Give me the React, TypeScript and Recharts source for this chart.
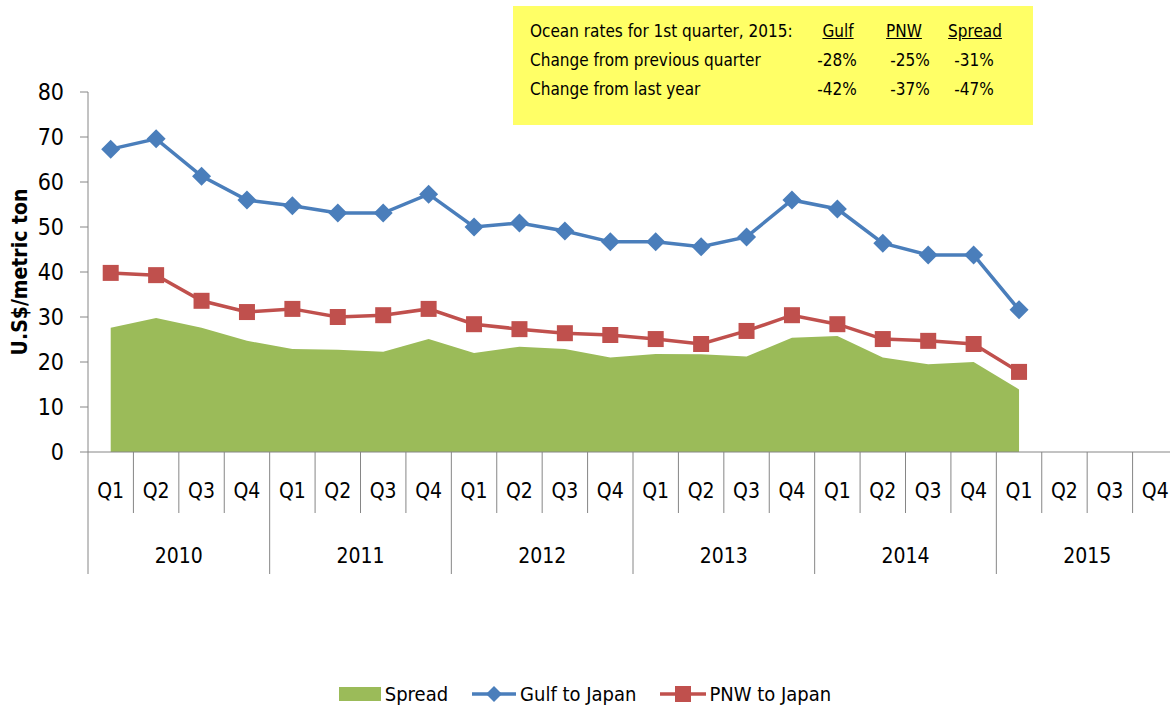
import React from 'react';
import { ComposedChart, Area, Line, XAxis, YAxis, Legend } from 'recharts';

const YEARS = ['2010', '2011', '2012', '2013', '2014', '2015'];
const QUARTERS = ['Q1', 'Q2', 'Q3', 'Q4'];

// values by quarter, 2010 Q1 .. 2015 Q1 (later quarters empty)
const gulf = [67.3, 69.6, 61.3, 56.0, 54.7, 53.1, 53.1, 57.3, 50.0, 50.9, 49.1, 46.7, 46.7, 45.6, 47.8, 56.0, 54.0, 46.4, 43.8, 43.8, 31.6];
const pnw = [39.8, 39.3, 33.6, 31.1, 31.8, 30.0, 30.4, 31.8, 28.4, 27.3, 26.4, 26.0, 25.1, 24.0, 26.9, 30.4, 28.4, 25.1, 24.7, 24.0, 17.8];
const spread = [27.6, 29.8, 27.6, 24.7, 22.9, 22.7, 22.3, 25.1, 22.0, 23.4, 22.9, 21.0, 21.8, 21.7, 21.2, 25.4, 25.8, 21.0, 19.5, 20.0, 13.9];

const Y_TICKS = [0, 10, 20, 30, 40, 50, 60, 70, 80];

const BOX_HEAD = ['Gulf', 'PNW', 'Spread'];
const BOX_ROWS = [
  { label: 'Change from previous quarter', values: ['-28%', '-25%', '-31%'] },
  { label: 'Change from last year', values: ['-42%', '-37%', '-47%'] },
];

const data = YEARS.flatMap((yr, yi) =>
  QUARTERS.map((q, qi) => {
    const i = yi * 4 + qi;
    return {
      key: `${yr} ${q}`,
      spread: spread[i] ?? null,
      gulf: gulf[i] ?? null,
      pnw: pnw[i] ?? null,
    };
  })
);

const W = 1170;
const CHART_W = 1178; // the plot runs a little past the right edge
const H = 709;
const LEFT = 88;
const TOP = 92;
const AXIS_Y = 452;
const BAND = (CHART_W - LEFT) / data.length;
const FONT = "'Liberation Sans Narrow', 'DejaVu Sans Condensed', sans-serif";

const GREEN = '#9BBB59';
const BLUE = '#4A7EBB';
const RED = '#C0504D';
const GRID = '#868686';

const QuarterTick = (props: any) => {
  const { x, payload } = props;
  const i = payload.index;
  const half = BAND / 2;
  const yearEnd = i % 4 === 3;
  return (
    <g>
      {i === 0 && <line x1={x - half} y1={AXIS_Y} x2={x - half} y2={AXIS_Y + 122} stroke={GRID} />}
      <line x1={x + half} y1={AXIS_Y} x2={x + half} y2={yearEnd ? AXIS_Y + 122 : AXIS_Y + 61} stroke={GRID} />
      <text x={x} y={AXIS_Y + 46} textAnchor="middle" fontSize={21} fontFamily={FONT} fill="#000">
        {QUARTERS[i % 4]}
      </text>
      {i % 4 === 1 && (
        <text x={x + half} y={AXIS_Y + 111} textAnchor="middle" fontSize={21} fontFamily={FONT} fill="#000">
          {YEARS[Math.floor(i / 4)]}
        </text>
      )}
    </g>
  );
};

const Diamond = (props: any) => {
  const { cx, cy } = props;
  if (cx == null || cy == null || props.value == null) return <g />;
  const r = 9.5;
  return <path d={`M${cx},${cy - r}L${cx + r},${cy}L${cx},${cy + r}L${cx - r},${cy}Z`} fill={BLUE} />;
};

const Square = (props: any) => {
  const { cx, cy } = props;
  if (cx == null || cy == null || props.value == null) return <g />;
  const s = 8;
  return <rect x={cx - s} y={cy - s} width={s * 2} height={s * 2} fill={RED} />;
};

const LegendBox = () => (
  <div style={{ display: 'flex', justifyContent: 'center', alignItems: 'center', height: 30, fontFamily: FONT, fontSize: 20, color: '#000', paddingRight: 8 }}>
    <svg width={42} height={16} style={{ marginRight: 4 }}>
      <rect x={0} y={1} width={42} height={14} fill={GREEN} />
    </svg>
    <span style={{ marginRight: 24 }}>Spread</span>
    <svg width={44} height={18} style={{ marginRight: 4 }}>
      <line x1={0} y1={9} x2={44} y2={9} stroke={BLUE} strokeWidth={3.5} />
      <path d="M22,1L30,9L22,17L14,9Z" fill={BLUE} />
    </svg>
    <span style={{ marginRight: 24 }}>Gulf to Japan</span>
    <svg width={46} height={18} style={{ marginRight: 3 }}>
      <line x1={0} y1={9} x2={46} y2={9} stroke={RED} strokeWidth={3.5} />
      <rect x={15} y={1} width={16} height={16} fill={RED} />
    </svg>
    <span>PNW to Japan</span>
  </div>
);

const RateBox = () => (
  <div
    style={{
      position: 'absolute',
      left: 513,
      top: 6,
      width: 520,
      height: 119,
      background: '#FFFF66',
      fontFamily: FONT,
      fontSize: 17,
      color: '#000',
    }}
  >
    <div style={{ position: 'absolute', left: 17, top: 15 }}>Ocean rates for 1st quarter, 2015:</div>
    {BOX_HEAD.map((h, j) => (
      <div key={h} style={{ position: 'absolute', left: [325, 391, 462][j] - 40, width: 80, top: 15, textAlign: 'center', textDecoration: 'underline' }}>
        {h}
      </div>
    ))}
    {BOX_ROWS.map((r, k) => (
      <React.Fragment key={r.label}>
        <div style={{ position: 'absolute', left: 17, top: 44 + k * 29 }}>{r.label}</div>
        {r.values.map((v, j) => (
          <div key={j} style={{ position: 'absolute', left: [324, 397, 461][j] - 40, width: 80, top: 44 + k * 29, textAlign: 'center' }}>
            {v}
          </div>
        ))}
      </React.Fragment>
    ))}
  </div>
);

const YLabel = () => (
  <text
    x={20}
    y={(TOP + AXIS_Y) / 2}
    transform={`rotate(-90, 20, ${(TOP + AXIS_Y) / 2})`}
    textAnchor="middle"
    dominantBaseline="central"
    fontSize={21}
    fontWeight="bold"
    fontFamily="'DejaVu Sans Condensed', sans-serif"
    fill="#000"
  >
    U.S$/metric ton
  </text>
);

export default function App() {
  return (
    <div style={{ position: 'absolute', left: 0, top: 0, width: W, height: H, background: '#fff', overflow: 'hidden' }}>
      <ComposedChart width={CHART_W} height={H} data={data} margin={{ top: TOP, right: 0, bottom: 0, left: 0 }}>
        <XAxis
          dataKey="key"
          interval={0}
          height={H - AXIS_Y - 30}
          padding={{ left: BAND / 2, right: BAND / 2 }}
          tickLine={false}
          stroke={GRID}
          tick={<QuarterTick />}
        />
        <YAxis
          domain={[0, 80]}
          ticks={Y_TICKS}
          width={LEFT}
          stroke={GRID}
          tickSize={8}
          tickMargin={16}
          tick={{ fill: '#000', fontSize: 23, fontFamily: FONT }}
          label={<YLabel />}
        />
        <Legend verticalAlign="bottom" height={30} content={<LegendBox />} />
        <Area dataKey="spread" name="Spread" type="linear" stroke="none" fill={GREEN} fillOpacity={1} isAnimationActive={false} connectNulls={false} />
        <Line dataKey="gulf" name="Gulf to Japan" type="linear" stroke={BLUE} strokeWidth={3.5} dot={<Diamond />} activeDot={false} isAnimationActive={false} />
        <Line dataKey="pnw" name="PNW to Japan" type="linear" stroke={RED} strokeWidth={3.5} dot={<Square />} activeDot={false} isAnimationActive={false} />
      </ComposedChart>
      <RateBox />
    </div>
  );
}
